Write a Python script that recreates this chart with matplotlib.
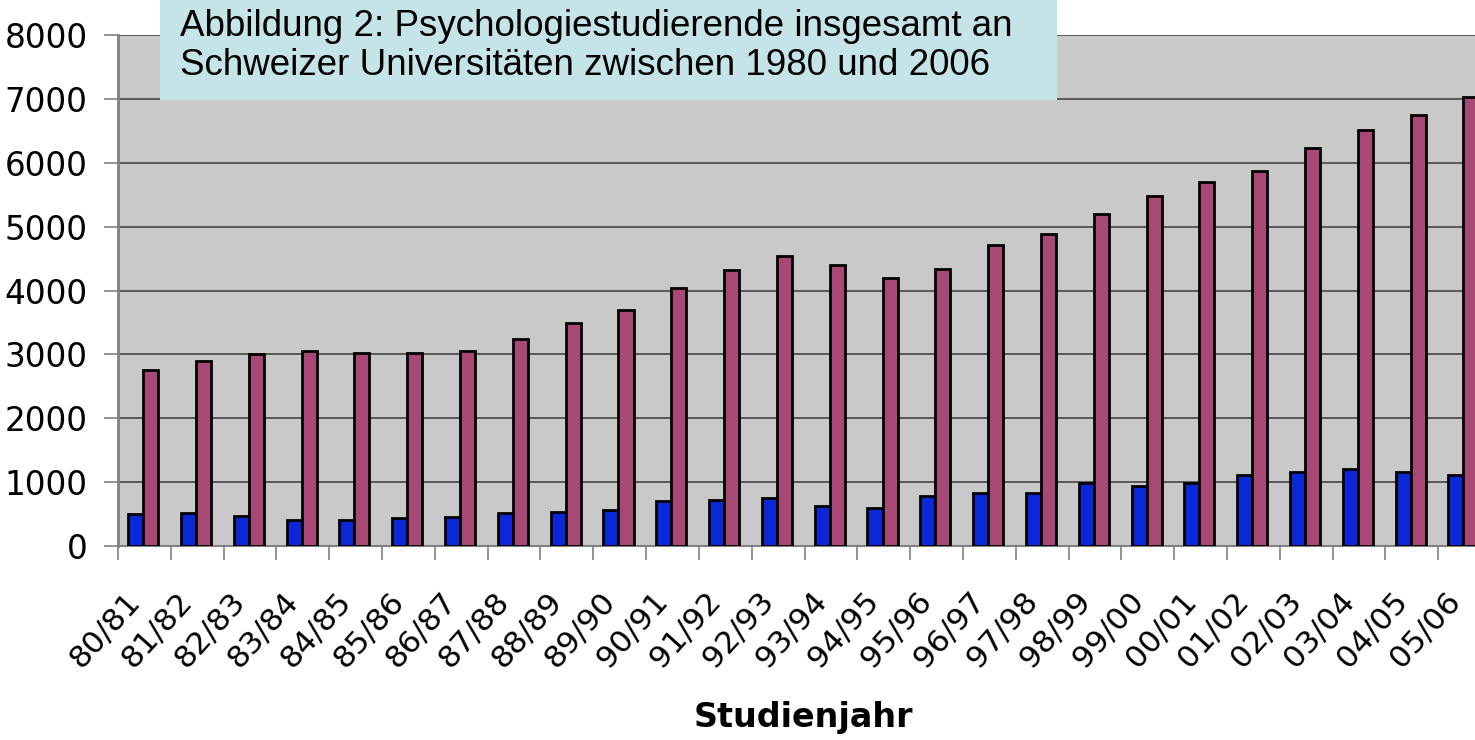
import matplotlib
matplotlib.use("Agg")
import matplotlib.pyplot as plt
from matplotlib.patches import Rectangle
import numpy as np

categories = ["80/81", "81/82", "82/83", "83/84", "84/85", "85/86", "86/87", "87/88",
              "88/89", "89/90", "90/91", "91/92", "92/93", "93/94", "94/95", "95/96",
              "96/97", "97/98", "98/99", "99/00", "00/01", "01/02", "02/03", "03/04",
              "04/05", "05/06"]
series_blue = [496, 511, 469, 407, 407, 443, 459, 522, 537, 570, 704, 720, 746, 631,
               590, 787, 825, 825, 981, 944, 986, 1111, 1153, 1210, 1153, 1106]
series_pink = [2754, 2890, 3005, 3052, 3025, 3015, 3060, 3235, 3485, 3692, 4033, 4319,
               4540, 4405, 4190, 4340, 4710, 4883, 5196, 5482, 5701, 5873, 6229, 6505,
               6740, 7022]
yticks = [0, 1000, 2000, 3000, 4000, 5000, 6000, 7000, 8000]
title_lines = "Abbildung 2: Psychologiestudierende insgesamt an\nSchweizer Universitäten zwischen 1980 und 2006"
xlabel = "Studienjahr"

W, H = 1475, 740
fig = plt.figure(figsize=(W / 100, H / 100), dpi=100)
left, right, bottom, top = 118, 1491, 546, 35
ax = fig.add_axes([left / W, 1 - bottom / H, (right - left) / W, (bottom - top) / H])
ax.set_facecolor("#C9C9C9")

x = np.arange(len(categories))
bw = 0.285
ax.bar(x - 0.165, series_blue, width=bw, color="#0A28D8", edgecolor="black",
       linewidth=2.0, zorder=3)
ax.bar(x + 0.12, series_pink, width=bw, color="#A84874", edgecolor="black",
       linewidth=2.0, zorder=3)

ax.set_xlim(-0.5, len(categories) - 0.5)
ax.set_ylim(0, 8000)
ax.set_yticks(yticks)
ax.set_yticklabels([str(v) for v in yticks], fontsize=23.5, family="DejaVu Sans")
ax.yaxis.grid(True, color="#444444", linewidth=1.2, zorder=1)
ax.tick_params(axis="y", length=10, width=1.2, color="#808080", pad=12)

# category boundaries as ticks, labels near centres
ax.set_xticks(np.arange(-0.5, len(categories), 1.0))
ax.set_xticklabels([])
ax.tick_params(axis="x", length=10, width=1.2, color="#808080")
for xi, lab in zip(x, categories):
    ax.text(xi - 0.38, -0.08, lab, transform=ax.get_xaxis_transform(), rotation=48,
            ha="right", va="top", rotation_mode="anchor", fontsize=22.5,
            family="DejaVu Sans", clip_on=False)

for s in ["top", "right"]:
    ax.spines[s].set_visible(False)
ax.spines["left"].set_color("#808080")
ax.spines["left"].set_linewidth(2)
ax.spines["bottom"].set_color("#808080")
ax.spines["bottom"].set_linewidth(1.5)

fig.text(803 / W, 1 - 718 / H, xlabel, ha="center", va="center", fontsize=24,
         fontweight="bold", family="DejaVu Sans")

# title box
fig.patches.append(Rectangle((160 / W, 1 - 100 / H), (1057 - 160) / W, 100 / H,
                             transform=fig.transFigure, facecolor="#C5E4E8",
                             edgecolor="none", zorder=5))
fig.text(180 / W, 1 - 46 / H, title_lines, ha="left", va="center", fontsize=26.5,
         family="Liberation Sans", linespacing=1.15, zorder=6)

fig.savefig("out.png", dpi=100)
